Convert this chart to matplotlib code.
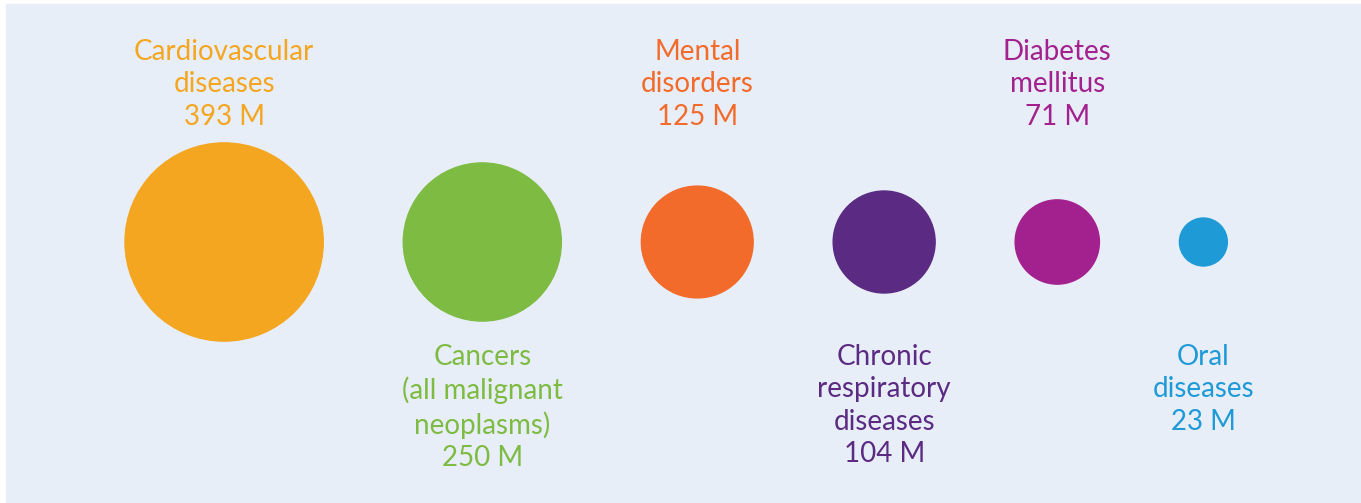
import numpy as np
import matplotlib.pyplot as plt
from matplotlib.patches import Circle, Rectangle

# данные: число случаев (млн)
names = ['Cardiovascular\ndiseases', 'Cancers\n(all malignant\nneoplasms)', 'Mental\ndisorders',
         'Chronic\nrespiratory\ndiseases', 'Diabetes\nmellitus', 'Oral\ndiseases']
values = [393, 250, 125, 104, 71, 23]
colors = ['#F4A620', '#7DBB42', '#F26B2A', '#5B2A82', '#A3218E', '#1E9AD6']
label_top = [True, False, True, False, True, False]

W, H = 1361, 503
fig = plt.figure(figsize=(W / 100, H / 100), dpi=100)
ax = fig.add_axes([0, 0, 1, 1])
ax.set_xlim(0, W)
ax.set_ylim(H, 0)
ax.axis('off')

ax.add_patch(Rectangle((6, 4), W - 6, H - 4, color='#E8EEF8', zorder=0))

# радиус ~ sqrt(значения), круги идут подряд с одинаковым зазором
k = 5.0
gap = 80
x = 125
cy = 242
for name, v, c, top in zip(names, values, colors, label_top):
    r = k * np.sqrt(v)
    cx = x + r
    ax.add_patch(Circle((cx, cy), r, color=c, zorder=2))
    txt = name + '\n' + str(v) + ' M'
    y0 = 39 if top else 344
    ax.text(cx, y0, txt, ha='center', va='top', color=c, fontsize=20,
            family='Lato', linespacing=1.3)
    x = cx + r + gap

fig.savefig('out.png', dpi=100)
